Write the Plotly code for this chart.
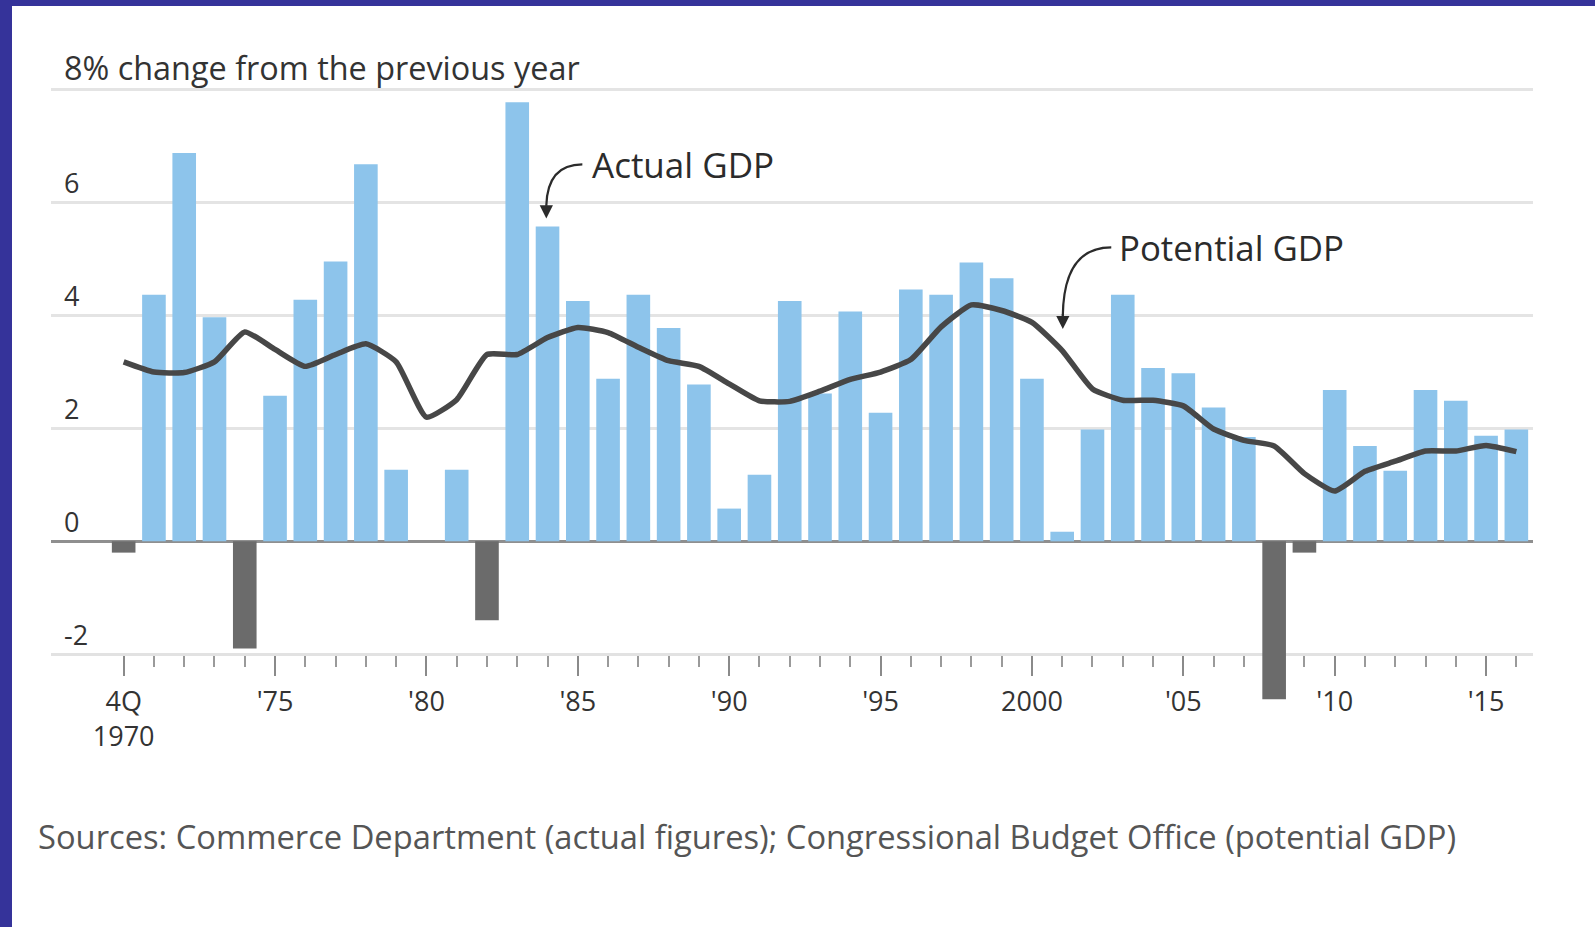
import plotly.graph_objects as go

years = list(range(1970, 2017))
actual_gdp = [-0.2, 4.37, 6.88, 3.97, -1.9, 2.58, 4.28, 4.96, 6.68, 1.27,
              0.0, 1.27, -1.4, 7.78, 5.58, 4.26, 2.88, 4.37, 3.78, 2.78,
              0.58, 1.18, 4.26, 2.62, 4.07, 2.28, 4.46, 4.37, 4.94, 4.66,
              2.88, 0.17, 1.98, 4.37, 3.07, 2.98, 2.37, 1.85, -2.8, -0.2,
              2.68, 1.69, 1.25, 2.68, 2.49, 1.87, 1.98]
potential_gdp = [3.18, 3.0, 2.99, 3.18, 3.71, 3.4, 3.1, 3.31, 3.5, 3.18,
                 2.2, 2.51, 3.31, 3.31, 3.61, 3.79, 3.7, 3.44, 3.2, 3.1,
                 2.79, 2.49, 2.48, 2.66, 2.87, 3.0, 3.22, 3.8, 4.19, 4.09,
                 3.88, 3.38, 2.7, 2.5, 2.5, 2.4, 1.99, 1.79, 1.69, 1.2,
                 0.89, 1.24, 1.42, 1.6, 1.6, 1.7, 1.59]

x_tickvals = [1970, 1975, 1980, 1985, 1990, 1995, 2000, 2005, 2010, 2015]
x_ticktext = ["4Q<br>1970", "'75", "'80", "'85", "'90", "'95", "2000", "'05", "'10", "'15"]
y_tickvals = [-2, 0, 2, 4, 6, 8]
y_ticktext = ["-2", "0", "2", "4", "6",
              '<span style="font-size:32.4px">8% change from the previous year</span>']

source_text = "Sources: Commerce Department (actual figures); Congressional Budget Office (potential GDP)"

W, H = 1595, 927
ML, MR, MT, MB = 51, 62, 87, 222
PW, PH = W - ML - MR, H - MT - MB
YMIN, YMAX = -2.9, 8.05


def pxx(xp):
    return (xp - ML) / PW


def pxy(yp):
    return (H - MB - yp) / PH


FONT = "Open Sans, Lato, DejaVu Sans, sans-serif"
BLUE = "#8dc4eb"
GRAY_BAR = "#6b6b6b"
bar_colors = [BLUE if v >= 0 else GRAY_BAR for v in actual_gdp]

fig = go.Figure()
fig.add_trace(go.Bar(x=years, y=actual_gdp, marker=dict(color=bar_colors, line=dict(width=0)),
                     width=0.78, name="Actual GDP", showlegend=False))
fig.add_trace(go.Scatter(x=years, y=potential_gdp, mode="lines",
                         line=dict(color="#474747", width=5.5, shape="spline", smoothing=0.5),
                         name="Potential GDP", showlegend=False))

# curved callout arrows
fig.add_shape(type="path", xref="x", yref="y",
              path="M 1985.15,6.68 Q 1984.0,6.68 1983.96,5.95",
              line=dict(color="#2b2b2b", width=2.2))
fig.add_annotation(x=1983.96, y=5.72, ax=1983.96, ay=5.98, axref="x", ayref="y",
                   xref="x", yref="y", text="", showarrow=True, arrowhead=2,
                   arrowsize=1.2, arrowwidth=2.2, arrowcolor="#2b2b2b")
fig.add_annotation(x=1985.4, y=6.68, xref="x", yref="y", text="Actual GDP",
                   showarrow=False, xanchor="left", yanchor="middle",
                   font=dict(family=FONT, size=35, color="#2b2b2b"))

fig.add_shape(type="path", xref="x", yref="y",
              path="M 2002.62,5.21 Q 2001.05,5.21 2001.02,4.0",
              line=dict(color="#2b2b2b", width=2.2))
fig.add_annotation(x=2001.02, y=3.76, ax=2001.02, ay=4.05, axref="x", ayref="y",
                   xref="x", yref="y", text="", showarrow=True, arrowhead=2,
                   arrowsize=1.2, arrowwidth=2.2, arrowcolor="#2b2b2b")
fig.add_annotation(x=2002.8, y=5.21, xref="x", yref="y", text="Potential GDP",
                   showarrow=False, xanchor="left", yanchor="middle",
                   font=dict(family=FONT, size=34.8, color="#2b2b2b"))

# source note
fig.add_annotation(x=pxx(36), y=pxy(837), xref="paper", yref="paper", text=source_text,
                   showarrow=False, xanchor="left", yanchor="middle",
                   font=dict(family=FONT, size=32.7, color="#555555"))

# frame strips (left and top)
BORDER = "#35339a"
fig.add_shape(type="rect", xref="paper", yref="paper", x0=pxx(-5), x1=pxx(12),
              y0=pxy(H + 5), y1=pxy(-5), fillcolor=BORDER, line=dict(width=0), layer="above")
fig.add_shape(type="rect", xref="paper", yref="paper", x0=pxx(-5), x1=pxx(W + 5),
              y0=pxy(6), y1=pxy(-5), fillcolor=BORDER, line=dict(width=0), layer="above")

fig.update_layout(
    width=W, height=H,
    margin=dict(l=ML, r=MR, t=MT, b=MB),
    paper_bgcolor="white", plot_bgcolor="white",
    font=dict(family=FONT, color="#333333"),
    bargap=0.2,
    xaxis=dict(range=[1967.6, 2016.55], tickvals=x_tickvals, ticktext=x_ticktext,
               anchor="free", position=(-2 - YMIN) / (YMAX - YMIN),
               showgrid=False, zeroline=False, showline=True, linecolor="#e2e2e2", linewidth=3,
               ticks="outside", ticklen=20, tickwidth=2, tickcolor="#8a8a8a",
               minor=dict(tickmode="array", tickvals=years, ticks="outside", ticklen=11,
                          tickwidth=2, tickcolor="#9a9a9a"),
               tickfont=dict(family=FONT, size=27, color="#333333"), layer="below traces",
               ticklabelstandoff=2),
    yaxis=dict(range=[YMIN, YMAX], tickvals=y_tickvals, ticktext=y_ticktext,
               showgrid=True, gridcolor="#e4e4e4", gridwidth=3,
               zeroline=True, zerolinecolor="#8f8f8f", zerolinewidth=3,
               ticks="", showline=False, ticklabelposition="inside top",
               ticklabeloverflow="allow", ticklabelstandoff=10,
               tickfont=dict(family=FONT, size=27, color="#333333")),
)

fig.write_html("out.html", config={"displayModeBar": False},
               post_script="document.body.style.margin='0';document.body.style.overflow='hidden';")
